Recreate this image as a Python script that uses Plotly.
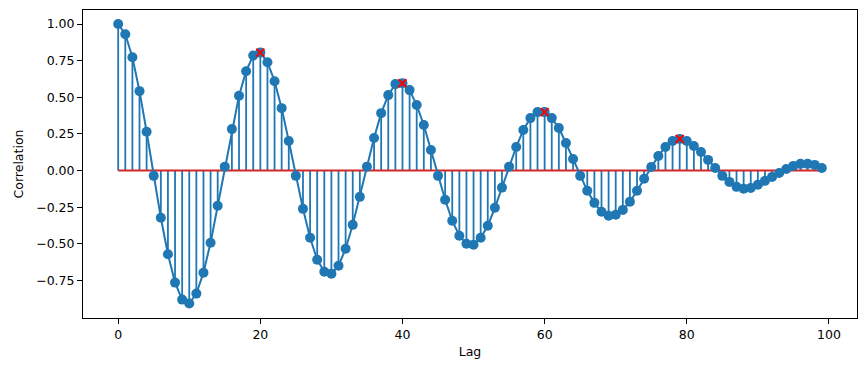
import plotly.graph_objects as go

lags = list(range(100))
corr = [1.00, 0.93, 0.773, 0.542, 0.265, -0.036, -0.322, -0.571, -0.764, -0.88,
        -0.907, -0.839, -0.696, -0.492, -0.240, 0.027, 0.283, 0.510, 0.678, 0.785,
        0.805, 0.739, 0.610, 0.426, 0.202, -0.036, -0.261, -0.458, -0.608, -0.690,
        -0.703, -0.649, -0.533, -0.370, -0.179, 0.027, 0.222, 0.392, 0.515, 0.590,
        0.596, 0.549, 0.447, 0.311, 0.141, -0.036, -0.199, -0.342, -0.444, -0.499,
        -0.506, -0.458, -0.376, -0.254, -0.116, 0.027, 0.161, 0.277, 0.358, 0.399,
        0.399, 0.358, 0.290, 0.188, 0.079, -0.036, -0.138, -0.220, -0.281, -0.308,
        -0.301, -0.268, -0.213, -0.138, -0.056, 0.025, 0.100, 0.161, 0.202, 0.216,
        0.202, 0.168, 0.127, 0.073, 0.018, -0.036, -0.077, -0.111, -0.124, -0.118,
        -0.097, -0.070, -0.043, -0.016, 0.011, 0.032, 0.046, 0.046, 0.039, 0.018]
peak_lags = [20, 40, 60, 79]

BLUE = "#1f77b4"
RED = "#d62728"

stem_x, stem_y = [], []
for l, v in zip(lags, corr):
    stem_x += [l, l, None]
    stem_y += [0, v, None]

peak_vals = [corr[l] for l in peak_lags]

fig = go.Figure()
fig.add_trace(go.Scatter(x=stem_x, y=stem_y, mode="lines",
                         line=dict(color=BLUE, width=1.8), hoverinfo="skip"))
fig.add_trace(go.Scatter(x=[lags[0], lags[-1]], y=[0, 0], mode="lines",
                         line=dict(color=RED, width=2)))
fig.add_trace(go.Scatter(x=lags, y=corr, mode="lines+markers",
                         line=dict(color=BLUE, width=2),
                         marker=dict(color=BLUE, size=10)))
fig.add_trace(go.Scatter(x=peak_lags, y=peak_vals, mode="markers",
                         marker=dict(symbol="x-thin", size=8,
                                     line=dict(color="red", width=2), color="red")))

axis_common = dict(showline=True, linecolor="black", linewidth=1, mirror=True,
                   ticks="outside", ticklen=5, tickcolor="black", tickwidth=1,
                   showgrid=False, zeroline=False, automargin=False,
                   tickfont=dict(family="DejaVu Sans", size=12.5, color="black"),
                   title_font=dict(family="DejaVu Sans", size=12.5, color="black"))

fig.update_layout(
    width=866, height=371,
    margin=dict(l=83, r=9, t=10, b=53, pad=0),
    paper_bgcolor="white", plot_bgcolor="white",
    showlegend=False,
    xaxis=dict(range=[-4.95, 103.95], tickvals=[0, 20, 40, 60, 80, 100],
               title=dict(text="Lag", standoff=6), **axis_common),
    yaxis=dict(range=[-1.0055, 1.0955], tickvals=[-0.75, -0.5, -0.25, 0, 0.25, 0.5, 0.75, 1.0],
               tickformat=".2f", title=dict(text="Correlation", standoff=9), **axis_common),
)

fig.write_html("out.html", config={"displayModeBar": False},
               post_script="document.body.style.margin='0';document.body.style.padding='0';")
